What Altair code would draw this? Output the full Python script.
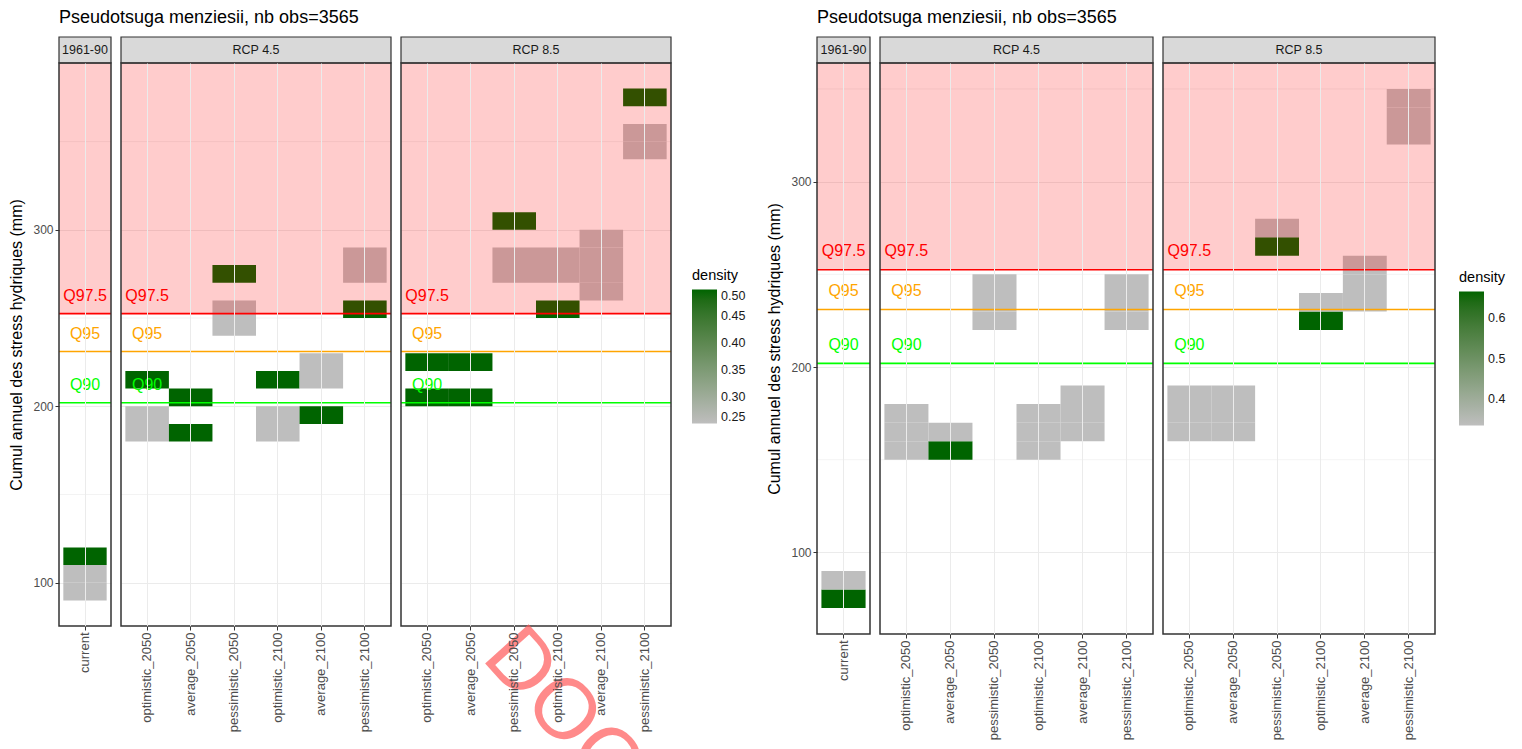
import altair as alt
import pandas as pd

TITLE = "Pseudotsuga menziesii, nb obs=3565"
Y_TITLE = "Cumul annuel des stress hydriques (mm)"
FACETS = ["1961-90", "RCP 4.5", "RCP 8.5"]
HIST = ["current"]
FUTURE = ["optimistic_2050", "average_2050", "pessimistic_2050",
          "optimistic_2100", "average_2100", "pessimistic_2100"]
BIN = 10
MAJOR = [100, 200, 300]
MINOR = [150, 250, 350]

Q_NAMES = ["Q97.5", "Q95", "Q90"]
Q_VALUES = [252.5, 231, 202]
Q_COLORS = ["#FF0000", "#FFA500", "#00FF00"]
Q_LABEL_OFFSET = 10

# ---------------- left chart (4 values per scenario) ----------------
L_FACET = (["1961-90"] * 3 + ["RCP 4.5"] * 17 + ["RCP 8.5"] * 17)
L_SCEN = (["current"] * 3
          + ["optimistic_2050"] * 3 + ["average_2050"] * 2 + ["pessimistic_2050"] * 3
          + ["optimistic_2100"] * 3 + ["average_2100"] * 3 + ["pessimistic_2100"] * 3
          + ["optimistic_2050"] * 2 + ["average_2050"] * 2 + ["pessimistic_2050"] * 3
          + ["optimistic_2100"] * 3 + ["average_2100"] * 4 + ["pessimistic_2100"] * 3)
L_YMIN = [90, 100, 110,
          180, 190, 210, 180, 200, 240, 250, 270,
          180, 190, 210, 190, 210, 220, 250, 270, 280,
          200, 220, 200, 220, 270, 280, 300,
          250, 270, 280, 260, 270, 280, 290, 340, 350, 370]
L_DENS = [0.25, 0.25, 0.5,
          0.25, 0.25, 0.5, 0.5, 0.5, 0.25, 0.25, 0.5,
          0.25, 0.25, 0.5, 0.5, 0.25, 0.25, 0.5, 0.25, 0.25,
          0.5, 0.5, 0.5, 0.5, 0.25, 0.25, 0.5,
          0.5, 0.25, 0.25, 0.25, 0.25, 0.25, 0.25, 0.25, 0.25, 0.5]

# ---------------- right chart (3 values per scenario) ----------------
R_FACET = (["1961-90"] * 2 + ["RCP 4.5"] * 17 + ["RCP 8.5"] * 16)
R_SCEN = (["current"] * 2
          + ["optimistic_2050"] * 3 + ["average_2050"] * 2 + ["pessimistic_2050"] * 3
          + ["optimistic_2100"] * 3 + ["average_2100"] * 3 + ["pessimistic_2100"] * 3
          + ["optimistic_2050"] * 3 + ["average_2050"] * 3 + ["pessimistic_2050"] * 2
          + ["optimistic_2100"] * 2 + ["average_2100"] * 3 + ["pessimistic_2100"] * 3)
R_YMIN = [70, 80,
          150, 160, 170, 150, 160, 220, 230, 240,
          150, 160, 170, 160, 170, 180, 220, 230, 240,
          160, 170, 180, 160, 170, 180, 260, 270,
          220, 230, 230, 240, 250, 320, 330, 340]
R_DENS = [0.667, 0.333,
          0.333, 0.333, 0.333, 0.667, 0.333, 0.333, 0.333, 0.333,
          0.333, 0.333, 0.333, 0.333, 0.333, 0.333, 0.333, 0.333, 0.333,
          0.333, 0.333, 0.333, 0.333, 0.333, 0.333, 0.667, 0.333,
          0.667, 0.333, 0.333, 0.333, 0.333, 0.333, 0.333, 0.333]

L_YDOMAIN = [75.5, 394.5]
R_YDOMAIN = [56, 364]
L_CDOMAIN = [0.25, 0.5]
R_CDOMAIN = [0.333, 0.667]
L_CVALUES = [0.25, 0.3, 0.35, 0.4, 0.45, 0.5]
R_CVALUES = [0.4, 0.5, 0.6]

GRID = "#EBEBEB"
DARK = "#333333"
AXT = "#4D4D4D"
STRIP = "#D9D9D9"
LOWC = "#BEBEBE"
HIGHC = "#006400"
FONT = "Liberation Sans"
STRIP_H = 26


def tiles_frame(facets, scens, ymins, dens):
    df = pd.DataFrame({"facet": facets, "scenario": scens, "ymin": ymins, "density": dens})
    df["ymax"] = df["ymin"] + BIN
    return df


def panel(df, facet, width, height, ydom, cdom, cvals, cfmt, first, last,
          legend_xy, watermark=False):
    scen = HIST if facet == "1961-90" else FUTURE
    sub = df[df.facet == facet]
    xscale = alt.Scale(domain=scen, paddingInner=0, paddingOuter=0.1)
    xaxis = alt.Axis(title=None, labelAngle=270, bandPosition=0.5, grid=True,
                     gridColor=GRID, gridWidth=1, tickColor=DARK, tickSize=4,
                     tickWidth=1, domain=False, labelFontSize=13, labelColor=AXT,
                     labelPadding=2)
    yscale = alt.Scale(domain=ydom, nice=False, zero=False)
    if first:
        yaxis = alt.Axis(values=MAJOR, grid=True, gridColor=GRID, gridWidth=1,
                         tickColor=DARK, tickSize=4, tickWidth=1, domain=False,
                         labelFontSize=12, labelColor=AXT, labelPadding=2,
                         title=Y_TITLE, titleFontSize=16, titleFontWeight="normal",
                         titleColor="black", titlePadding=8)
    else:
        yaxis = alt.Axis(values=MAJOR, grid=True, gridColor=GRID, gridWidth=1,
                         ticks=False, labels=False, domain=False, title=None)
    if last:
        legend = alt.Legend(title="density", orient="none", legendX=legend_xy[0],
                            legendY=legend_xy[1], values=cvals, format=cfmt,
                            gradientLength=134, gradientThickness=25,
                            gradientStrokeWidth=0, titleFontSize=14.5,
                            titleFontWeight="normal", titleColor="black",
                            titlePadding=6, labelFontSize=12.5, labelColor="#1A1A1A",
                            labelOverlap=False, labelOffset=4)
    else:
        legend = None

    minor = alt.Chart(pd.DataFrame({"v": MINOR})).mark_rule(
        color=GRID, strokeWidth=0.6).encode(
        y=alt.Y("v:Q", scale=yscale, axis=yaxis))

    tiles = alt.Chart(sub).mark_rect().encode(
        x=alt.X("scenario:N", scale=xscale, axis=xaxis, sort=scen),
        y=alt.Y("ymin:Q", scale=yscale, axis=yaxis),
        y2="ymax:Q",
        color=alt.Color("density:Q",
                        scale=alt.Scale(domain=cdom, range=[LOWC, HIGHC], interpolate="lab"),
                        legend=legend),
    )

    pink = alt.Chart(pd.DataFrame({"q": [Q_VALUES[0]]})).mark_rect(
        color="#FF0000", opacity=0.2).encode(
        x=alt.value(0), x2=alt.value(width),
        y=alt.Y("q:Q", scale=yscale, axis=yaxis), y2=alt.value(0))

    layers = [minor, tiles, pink]
    for name, val, col in zip(Q_NAMES, Q_VALUES, Q_COLORS):
        qdf = pd.DataFrame({"name": [name], "value": [val],
                            "label_y": [val + Q_LABEL_OFFSET], "scenario": [scen[0]]})
        layers.append(alt.Chart(qdf).mark_rule(color=col, strokeWidth=1.6).encode(
            y=alt.Y("value:Q", scale=yscale, axis=yaxis)))
        layers.append(alt.Chart(qdf).mark_text(color=col, fontSize=16, baseline="middle",
                                               align="center").encode(
            x=alt.X("scenario:N", scale=xscale, axis=xaxis, sort=scen),
            y=alt.Y("label_y:Q", scale=yscale, axis=yaxis),
            text="name:N"))

    one = pd.DataFrame({"label": [facet], "w": ["DOC"]})
    layers.append(alt.Chart(one).mark_rect(fill=STRIP, stroke=DARK, strokeWidth=1.2).encode(
        x=alt.value(0), x2=alt.value(width), y=alt.value(-STRIP_H), y2=alt.value(0)))
    layers.append(alt.Chart(one).mark_text(fontSize=12.5, color="#1A1A1A",
                                           baseline="middle").encode(
        x=alt.value(width / 2), y=alt.value(-STRIP_H / 2), text="label:N"))
    layers.append(alt.Chart(one).mark_rect(fillOpacity=0, stroke=DARK, strokeWidth=1.5).encode(
        x=alt.value(0), x2=alt.value(width), y=alt.value(0), y2=alt.value(height)))
    if watermark:
        layers.append(alt.Chart(one).mark_text(fontSize=85, angle=48, color="#FF5A5A",
                                               opacity=0.7, align="center",
                                               baseline="middle").encode(
            x=alt.value(162), y=alt.value(648), text="w:N"))
    return alt.layer(*layers).properties(width=width, height=height)


def block(df, widths, height, ydom, cdom, cvals, cfmt, legend_xy, watermark, dx):
    panels = []
    for i, f in enumerate(FACETS):
        panels.append(panel(df, f, widths[i], height, ydom, cdom, cvals, cfmt,
                            first=(i == 0), last=(i == 2), legend_xy=legend_xy,
                            watermark=(watermark and i == 2)))
    return alt.hconcat(*panels, spacing=8).resolve_scale(
        x="independent", y="independent", color="independent").properties(
        title=alt.TitleParams(TITLE, anchor="start", dx=dx, fontSize=18,
                              fontWeight="normal", color="black", offset=9))


left_df = tiles_frame(L_FACET, L_SCEN, L_YMIN, L_DENS)
right_df = tiles_frame(R_FACET, R_SCEN, R_YMIN, R_DENS)

left = block(left_df, [52, 270, 270], 563, L_YDOMAIN, L_CDOMAIN, L_CVALUES, ".2f",
             (291, 206), True, 50)
right = block(right_df, [53, 273, 272], 571, R_YDOMAIN, R_CDOMAIN, R_CVALUES, ".1f",
              (296, 208), False, 50)

chart = alt.hconcat(left, right, spacing=20).resolve_scale(
    x="independent", y="independent", color="independent"
).configure(font=FONT).configure_view(strokeWidth=0).properties(
    padding={"left": 0, "top": 1, "right": 0, "bottom": 0})

chart.save("out.html", embed_options={"renderer": "svg", "actions": False})
